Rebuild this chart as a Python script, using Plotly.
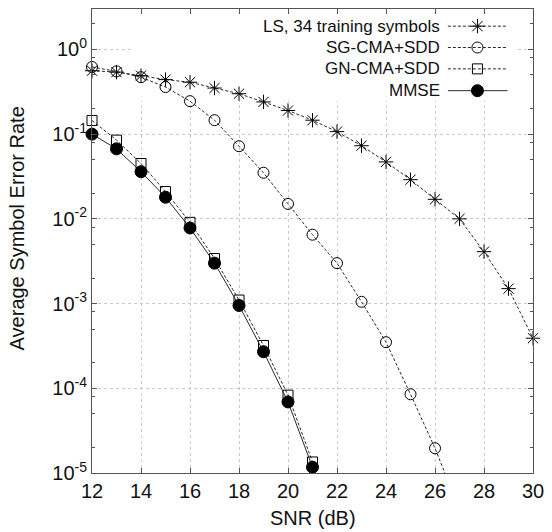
import plotly.graph_objects as go

# ---------------- data ----------------
snr_ls = [12, 13, 14, 15, 16, 17, 18, 19, 20, 21, 22, 23, 24, 25, 26, 27, 28, 29, 30]
ser_ls = [0.56, 0.54, 0.49, 0.44, 0.41, 0.35, 0.30, 0.24, 0.19, 0.146, 0.107, 0.073,
          0.047, 0.029, 0.017, 0.010, 0.0041, 0.0015, 0.00039]

snr_sg = [12, 13, 14, 15, 16, 17, 18, 19, 20, 21, 22, 23, 24, 25, 26, 27]
ser_sg = [0.62, 0.55, 0.47, 0.36, 0.245, 0.146, 0.072, 0.035, 0.015, 0.0065, 0.0030,
          0.00105, 0.00035, 8.5e-5, 1.96e-5, 3.7e-6]

snr_gn = [12, 13, 14, 15, 16, 17, 18, 19, 20, 21]
ser_gn = [0.145, 0.085, 0.045, 0.021, 0.0091, 0.0034, 0.0011, 0.00032, 8.3e-5, 1.35e-5]

snr_mmse = [12, 13, 14, 15, 16, 17, 18, 19, 20, 21]
ser_mmse = [0.10, 0.067, 0.036, 0.018, 0.0078, 0.0030, 0.00095, 0.00027, 6.9e-5, 1.17e-5]

names = ["LS, 34 training symbols", "SG-CMA+SDD", "GN-CMA+SDD", "MMSE"]

x_ticks = [12, 14, 16, 18, 20, 22, 24, 26, 28, 30]
y_ticks = [1e-5, 1e-4, 1e-3, 1e-2, 1e-1, 1e0]
y_ticktext = ["10<sup>-5</sup>", "10<sup>-4</sup>", "10<sup>-3</sup>",
              "10<sup>-2</sup>", "10<sup>-1</sup>", "10<sup>0</sup>"]
y_minor = [m * 10.0 ** e for e in range(-6, 1) for m in (2, 5, 8)]

# ---------------- style ----------------
FONT = "Liberation Sans, Arial, Helvetica, sans-serif"
LINE = "#2a2a2a"
MK = "#000000"
DASH = "3px,2px"
XR = [12, 30]
YR = [-5, 0.477]
YMIN = 10 ** YR[0]

styles = [
    dict(dash=DASH, symbol="asterisk-open", size=12, fill=MK),
    dict(dash=DASH, symbol="circle-open", size=11, fill=MK),
    dict(dash=DASH, symbol="square-open", size=10, fill=MK),
    dict(dash="solid", symbol="circle", size=12, fill=MK),
]

fig = go.Figure()

# opaque legend box (drawn first on the main axes: above grid, below curves)
bx0 = XR[0] + 0.092 * (XR[1] - XR[0])
bx1 = XR[0] + 0.966 * (XR[1] - XR[0])
by0 = 10 ** (YR[1] - 0.198 * (YR[1] - YR[0]))
by1 = 10 ** YR[1]
fig.add_trace(go.Scatter(
    x=[bx0, bx1, bx1, bx0, bx0], y=[by0, by0, by1, by1, by0],
    mode="lines", fill="toself", fillcolor="white", line=dict(width=0, color="white"),
    showlegend=False, hoverinfo="skip",
))

series = [(snr_ls, ser_ls), (snr_sg, ser_sg), (snr_gn, ser_gn), (snr_mmse, ser_mmse)]
for (xs, ys), st, nm in zip(series, styles, names):
    sizes = [st["size"] if v >= YMIN else 0 for v in ys]
    fig.add_trace(go.Scatter(
        x=xs, y=ys, mode="lines+markers", name=nm, cliponaxis=False,
        line=dict(color=LINE, width=1, dash=st["dash"]),
        marker=dict(symbol=st["symbol"], size=sizes, color=st["fill"], opacity=1,
                    line=dict(color=MK, width=1)),
        showlegend=False,
    ))

# ---------------- custom legend (samples on the right, gnuplot style) ----------------
row_y = [0.963, 0.917, 0.871, 0.824]
for yy, st, nm in zip(row_y, styles, names):
    fig.add_trace(go.Scatter(
        x=[0.807, 0.874, 0.942], y=[yy, yy, yy], xaxis="x2", yaxis="y2",
        mode="lines", line=dict(color=LINE, width=1, dash=st["dash"]),
        showlegend=False, hoverinfo="skip",
    ))
    fig.add_trace(go.Scatter(
        x=[0.874], y=[yy], xaxis="x2", yaxis="y2", mode="markers",
        marker=dict(symbol=st["symbol"], size=st["size"], color=st["fill"], opacity=1,
                    line=dict(color=MK, width=1)),
        showlegend=False, hoverinfo="skip",
    ))
    fig.add_annotation(x=0.794, y=yy, xref="paper", yref="paper", text=nm,
                       showarrow=False, xanchor="right", yanchor="middle",
                       font=dict(family=FONT, size=17, color="#111111"))

axis_common = dict(
    showline=True, linecolor="#555555", linewidth=1, mirror="ticks",
    ticks="inside", ticklen=5, tickcolor="#555555", tickwidth=1,
    showgrid=True, gridcolor="#c8c8c8", gridwidth=1, griddash="dot",
    zeroline=False, tickfont=dict(family=FONT, size=20, color="#111111"),
)

fig.update_layout(
    width=552, height=532,
    margin=dict(l=92, r=14, t=8, b=59),
    paper_bgcolor="white", plot_bgcolor="white",
    font=dict(family=FONT, color="#111111"),
    xaxis=dict(range=XR, tickvals=x_ticks, ticktext=[str(v) for v in x_ticks],
               **axis_common),
    yaxis=dict(type="log", range=YR, tickvals=y_ticks, ticktext=y_ticktext,
               minor=dict(tickvals=y_minor, ticks="inside", ticklen=3,
                          tickcolor="#555555", showgrid=False),
               **axis_common),
    xaxis2=dict(overlaying="x", range=[0, 1], visible=False, showticklabels=False,
                showgrid=False, fixedrange=True),
    yaxis2=dict(overlaying="y", range=[0, 1], visible=False, showticklabels=False,
                showgrid=False, fixedrange=True),
)

fig.add_annotation(x=0.5, y=-0.068, xref="paper", yref="paper", text="SNR (dB)",
                   showarrow=False, xanchor="center", yanchor="top",
                   font=dict(family=FONT, size=20, color="#111111"))
fig.add_annotation(x=-0.168, y=0.527, xref="paper", yref="paper",
                   text="Average Symbol Error Rate", textangle=-90,
                   showarrow=False, xanchor="center", yanchor="middle",
                   font=dict(family=FONT, size=20, color="#111111"))

fig.write_html("out.html")
